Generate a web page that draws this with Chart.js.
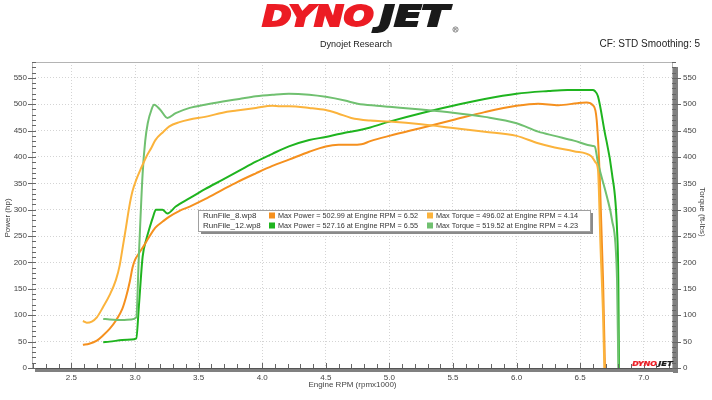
<!DOCTYPE html>
<html><head><meta charset="utf-8">
<script src="https://cdn.jsdelivr.net/npm/chart.js@4/dist/chart.umd.min.js"></script>
<style>html,body{margin:0;padding:0;background:#fff;overflow:hidden}canvas{display:block}</style>
</head><body>
<canvas id="c" width="712" height="400"></canvas>
<script>
// ---- tick labels ----
const xTickLabels = ['2.5','3.0','3.5','4.0','4.5','5.0','5.5','6.0','6.5','7.0'];
const yTickLabels = ['0','50','100','150','200','250','300','350','400','450','500','550'];

// ---- legend summary ----
const runNames = ['RunFile_8.wp8', 'RunFile_12.wp8'];
const maxPower = [502.99, 527.16];
const maxPowerRpm = [6.52, 6.55];
const maxTorque = [496.02, 519.52];
const maxTorqueRpm = [4.14, 4.23];

// ---- Run 8 ----
const run8PowerRpm = [2.59,2.64,2.70,2.75,2.80,2.85,2.90,2.93,2.96,2.98,3.00,3.03,3.07,3.11,3.16,3.22,3.27,3.35,3.43,3.55,3.69,3.80,3.95,4.08,4.21,4.37,4.50,4.60,4.70,4.78,4.85,5.00,5.25,5.50,5.75,6.00,6.17,6.33,6.48,6.55,6.60,6.63,6.655,6.68,6.695];
const run8Power    = [44,46,52,62,74,90,112,135,165,190,205,217,232,248,266,278,287,298,306,320,338,352,369,383,395,410,420,423,423,424,430,440,455,470,485,497,501,498,502,503,498,470,357,167,0];
const run8TorqueRpm = [2.59,2.62,2.66,2.70,2.75,2.80,2.85,2.88,2.90,2.93,2.955,2.98,3.01,3.05,3.09,3.13,3.16,3.22,3.27,3.35,3.43,3.55,3.69,3.80,3.95,4.08,4.14,4.21,4.37,4.50,4.60,4.70,4.85,5.00,5.25,5.50,5.75,6.00,6.17,6.30,6.45,6.59,6.62,6.64,6.66,6.68,6.69];
const run8Torque    = [89,86,88,96,116,138,167,195,224,268,306,335,357,380,401,418,432,447,458,466,471,476,484,488,493,497,496,496,493,489,482,474,469,467,462,455,448,440,426,418,411,401,390,376,230,100,0];

// ---- Run 12 ----
const run12PowerRpm = [2.75,2.80,2.90,2.97,3.01,3.03,3.06,3.09,3.11,3.14,3.164,3.216,3.255,3.32,3.43,3.55,3.69,3.82,3.95,4.08,4.21,4.37,4.50,4.65,4.75,4.85,5.00,5.25,5.50,5.75,6.00,6.25,6.40,6.55,6.60,6.615,6.64,6.69,6.75,6.79,6.80,6.805];
const run12Power    = [49,50,53,54,56,116,211,245,262,285,300,300,293,306,322,339,357,374,391,406,420,432,438,446,450,456,467,483,497,510,520,525,527,527,527,525,515,451,369,262,167,0];
const run12TorqueRpm = [2.75,2.80,2.90,2.97,3.01,3.03,3.06,3.08,3.10,3.13,3.15,3.20,3.255,3.32,3.43,3.55,3.69,3.82,3.95,4.08,4.21,4.37,4.50,4.65,4.75,4.90,5.00,5.25,5.50,5.75,6.00,6.17,6.30,6.45,6.60,6.615,6.64,6.71,6.75,6.79,6.80];
const run12Torque    = [93,92,91,92,96,211,369,430,464,490,499,489,474,483,493,499,505,510,515,518,520,518,514,507,501,497,495,490,484,476,464,448,440,431,421,420,389,325,281,167,0];

const COL_P8 = '#F5901E', COL_T8 = '#FBB33C', COL_P12 = '#1FB41F', COL_T12 = '#70C070';
const FONT = '"Liberation Sans", Arial, sans-serif';

function pts(xs, ys) { return xs.map((x, i) => ({x: x, y: ys[i]})); }

// draws the logo so that the glyph box fits [top, bottom]
function drawLogo(ctx, x, top, bottom, wDyno, wJet, gapJ, heavy) {
  ctx.save();
  ctx.font = 'italic bold 100px "DejaVu Sans"';
  ctx.textBaseline = 'alphabetic';
  ctx.textAlign = 'left';
  ctx.lineJoin = 'miter';
  const mm = ctx.measureText('DYNOJET');
  const asc = mm.actualBoundingBoxAscent, desc = Math.max(0, mm.actualBoundingBoxDescent);
  const pad = heavy / 2;
  const sy = (bottom - top) / (asc + desc + heavy);
  const baseline = top + (asc + pad) * sy;
  const parts = [['DYNO', '#EC1C24', x, wDyno], ['JET', '#1a1a1a', x + wDyno + gapJ, wJet]];
  for (const [t, c, px, w] of parts) {
    const m = ctx.measureText(t).width + heavy;
    ctx.save(); ctx.translate(px, baseline); ctx.scale(w / m, sy);
    ctx.fillStyle = c; ctx.strokeStyle = c; ctx.lineWidth = heavy;
    ctx.fillText(t, pad, 0);
    if (heavy > 0) ctx.strokeText(t, pad, 0);
    ctx.restore();
  }
  ctx.restore();
}

const decor = {
  id: 'decor',
  beforeDatasetsDraw(chart) {
    const ctx = chart.ctx, a = chart.chartArea;
    ctx.save();
    ctx.strokeStyle = '#b4b4b4'; ctx.lineWidth = 1;
    ctx.strokeRect(a.left + 0.5, a.top + 0.5, a.right - a.left - 1, a.bottom - a.top);
    ctx.restore();
  },
  afterDatasetsDraw(chart) {
    const ctx = chart.ctx, a = chart.chartArea;
    const xs = chart.scales.x, ys = chart.scales.y;
    ctx.save();
    // shadow bars
    ctx.fillStyle = '#808080';
    ctx.fillRect(a.left + 3, a.bottom, a.right - a.left + 2, 4);
    ctx.fillRect(a.right, a.top + 5, 5, a.bottom - a.top);
    // bottom axis line
    ctx.strokeStyle = '#555'; ctx.lineWidth = 1;
    ctx.beginPath(); ctx.moveTo(a.left, a.bottom + 0.5); ctx.lineTo(a.right, a.bottom + 0.5); ctx.stroke();
    // minor / major ticks
    ctx.strokeStyle = '#666';
    ctx.beginPath();
    for (let v = 0; v <= 580; v += 10) {
      const y = Math.round(ys.getPixelForValue(v)) + 0.5;
      const major = v % 50 === 0;
      ctx.moveTo(a.left - (major ? 4 : 0), y); ctx.lineTo(a.left + 4, y);
      ctx.moveTo(a.right - 1, y); ctx.lineTo(a.right + (major ? 8 : 3), y);
    }
    for (let k = 22; k <= 72; k++) {
      const x = Math.round(xs.getPixelForValue(k / 10)) + 0.5;
      if (x < a.left || x > a.right) continue;
      const major = k % 5 === 0;
      ctx.moveTo(x, a.bottom); ctx.lineTo(x, a.bottom - (major ? 5 : 4));
    }
    ctx.stroke();

    // small logo
    drawLogo(ctx, 632, 361, 367, 25, 15, 1, 4);

    // legend box
    const bx = 198, by = 210, bw = 392, bh = 21;
    ctx.fillStyle = '#8a8a8a';
    ctx.fillRect(bx + 3, by + 3, bw, bh);
    ctx.fillStyle = '#fff';
    ctx.fillRect(bx, by, bw, bh);
    ctx.strokeStyle = '#a0a0a0';
    ctx.strokeRect(bx + 0.5, by + 0.5, bw, bh);
    ctx.font = '8px ' + FONT;
    ctx.textBaseline = 'middle';
    ctx.textAlign = 'left';
    const pc = [COL_P8, COL_P12], tc = [COL_T8, COL_T12];
    for (let i = 0; i < 2; i++) {
      const ry = by + 5.5 + i * 10;
      ctx.fillStyle = '#333';
      ctx.fillText(runNames[i], 203, ry, 62);
      ctx.fillStyle = pc[i]; ctx.fillRect(269, ry - 3, 6, 6);
      ctx.fillStyle = '#333';
      ctx.fillText('Max Power = ' + maxPower[i].toFixed(2) + ' at Engine RPM = ' + maxPowerRpm[i].toFixed(2), 278, ry, 140);
      ctx.fillStyle = tc[i]; ctx.fillRect(427, ry - 3, 6, 6);
      ctx.fillStyle = '#333';
      ctx.fillText('Max Torque = ' + maxTorque[i].toFixed(2) + ' at Engine RPM = ' + maxTorqueRpm[i].toFixed(2), 436, ry, 142);
    }
    ctx.restore();
  },
  afterDraw(chart) {
    const ctx = chart.ctx, a = chart.chartArea;
    ctx.save();
    drawLogo(ctx, 261, 4, 33, 114, 72, 3, 7);
    ctx.beginPath(); ctx.arc(455.5, 29.5, 2.6, 0, Math.PI * 2); ctx.lineWidth = 0.7; ctx.strokeStyle = '#555'; ctx.stroke();
    ctx.fillStyle = '#555'; ctx.textBaseline = 'middle'; ctx.textAlign = 'center';
    ctx.font = 'bold 3.5px ' + FONT; ctx.fillText('R', 455.5, 29.7);

    ctx.fillStyle = '#222';
    ctx.font = '9.5px ' + FONT; ctx.textAlign = 'center';
    ctx.fillText('Dynojet Research', 356, 44, 72);
    ctx.font = '10px ' + FONT; ctx.textAlign = 'right';
    ctx.fillText('CF: STD Smoothing: 5', 700, 44, 108);

    ctx.fillStyle = '#444';
    ctx.font = '8px ' + FONT; ctx.textAlign = 'center';
    ctx.fillText('Engine RPM (rpmx1000)', (a.left + a.right) / 2, 385);
    ctx.save(); ctx.translate(8, (a.top + a.bottom) / 2 + 3); ctx.rotate(-Math.PI / 2);
    ctx.fillText('Power (hp)', 0, 0); ctx.restore();
    ctx.save(); ctx.translate(702, (a.top + a.bottom) / 2 - 3); ctx.rotate(Math.PI / 2);
    ctx.fillText('Torque (ft-lbs)', 0, 0); ctx.restore();
    ctx.restore();
  }
};

const gridOpts = { color: '#d4d4d4', lineWidth: 1, drawTicks: false };
const tickFont = { family: FONT, size: 8 };

new Chart(document.getElementById('c'), {
  type: 'line',
  data: {
    datasets: [
      { label: 'RunFile_8 Torque', data: pts(run8TorqueRpm, run8Torque), yAxisID: 'y2', borderColor: COL_T8 },
      { label: 'RunFile_12 Torque', data: pts(run12TorqueRpm, run12Torque), yAxisID: 'y2', borderColor: COL_T12 },
      { label: 'RunFile_8 Power', data: pts(run8PowerRpm, run8Power), yAxisID: 'y', borderColor: COL_P8 },
      { label: 'RunFile_12 Power', data: pts(run12PowerRpm, run12Power), yAxisID: 'y', borderColor: COL_P12 }
    ]
  },
  options: {
    responsive: false, animation: false, devicePixelRatio: 1,
    layout: { padding: { top: 62, left: 0, right: 0, bottom: 0 } },
    elements: {
      point: { radius: 0 },
      line: { borderWidth: 2, tension: 0, cubicInterpolationMode: 'monotone', borderJoinStyle: 'round', fill: false }
    },
    plugins: { legend: { display: false }, tooltip: { enabled: false }, title: { display: false } },
    scales: {
      x: {
        type: 'linear', min: 2.19, max: 7.23,
        afterBuildTicks: s => { s.ticks = xTickLabels.map(l => ({ value: parseFloat(l) })); },
        afterFit: s => { s.height = 32; },
        ticks: { callback: (v, i) => xTickLabels[i], font: tickFont, color: '#444', padding: 5, maxRotation: 0, autoSkip: false },
        grid: gridOpts,
        border: { display: false, dash: [1, 2] }
      },
      y: {
        type: 'linear', position: 'left', min: 0, max: 580,
        afterBuildTicks: s => { s.ticks = yTickLabels.map(l => ({ value: parseFloat(l) })); },
        afterFit: s => { s.width = 32; },
        ticks: { callback: (v, i) => yTickLabels[i], font: tickFont, color: '#444', padding: 5 },
        grid: gridOpts,
        border: { display: false, dash: [1, 2] }
      },
      y2: {
        type: 'linear', position: 'right', min: 0, max: 580,
        afterBuildTicks: s => { s.ticks = yTickLabels.map(l => ({ value: parseFloat(l) })); },
        afterFit: s => { s.width = 39; },
        ticks: { callback: (v, i) => yTickLabels[i], font: tickFont, color: '#444', padding: 10 },
        grid: { drawOnChartArea: false, drawTicks: false },
        border: { display: false }
      }
    }
  },
  plugins: [decor]
});
</script>
</body></html>
